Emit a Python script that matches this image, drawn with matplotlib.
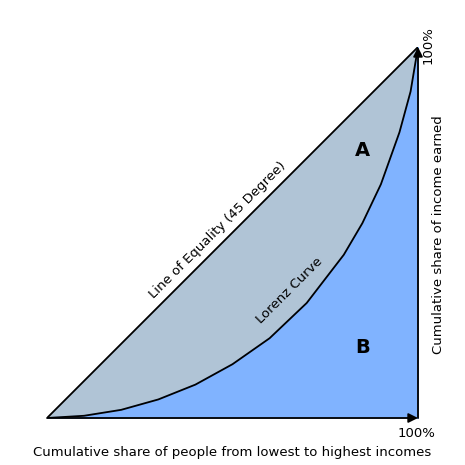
import matplotlib
matplotlib.use("Agg")
import matplotlib.pyplot as plt

# Lorenz curve (share of people, share of income)
people = [0.0, 0.1, 0.2, 0.3, 0.4, 0.5, 0.6, 0.7, 0.8, 0.85, 0.9, 0.95, 0.98, 1.0]
income = [0.0, 0.006, 0.022, 0.05, 0.09, 0.145, 0.215, 0.31, 0.44, 0.525, 0.63, 0.77, 0.88, 1.0]

fig = plt.figure(figsize=(4.65, 4.65), dpi=100)
ax = fig.add_axes([47 / 465, 47 / 465, 371 / 465, 371 / 465])
ax.set_xlim(0, 1)
ax.set_ylim(0, 1)
ax.axis("off")

# region A (between equality line and curve), region B (under the curve)
ax.fill_between(people, income, people, color="#b0c4d6", zorder=1)
ax.fill_between(people + [1.0], income + [0.0], 0, color="#80b3ff", zorder=1)
ax.fill_between([0, 1], [0, 0], [0, 1], color="none")
ax.fill(people + [1.0], income + [0.0], color="#80b3ff", zorder=1)

ax.plot([0, 1], [0, 1], color="black", lw=1.3, zorder=3)
ax.plot(people, income, color="black", lw=1.3, zorder=3)

kw = dict(arrowstyle="-|>", color="black", lw=1.3, mutation_scale=14, shrinkA=0, shrinkB=0)
ax.annotate("", xy=(1, 0), xytext=(0, 0), arrowprops=kw, zorder=4)
ax.annotate("", xy=(1, 1), xytext=(1, 0), arrowprops=kw, zorder=4, annotation_clip=False)

ax.text(0.46, 0.505, "Line of Equality (45 Degree)", rotation=45, fontsize=9.5,
        ha="center", va="center")
ax.text(0.655, 0.345, "Lorenz Curve", rotation=45, fontsize=9.5, ha="center", va="center")
ax.text(0.85, 0.72, "A", fontsize=14, fontweight="bold", ha="center", va="center")
ax.text(0.85, 0.19, "B", fontsize=14, fontweight="bold", ha="center", va="center")

fig.text(398 / 465, 1 - 433 / 465, "100%", fontsize=9.5, ha="left", va="center")
fig.text(428 / 465, 1 - 45 / 465, "100%", fontsize=9.5, rotation=90, ha="center", va="center")
fig.text(438 / 465, 1 - 235 / 465, "Cumulative share of income earned", fontsize=9.5,
         rotation=90, ha="center", va="center")
fig.text(232 / 465, 1 - 452 / 465, "Cumulative share of people from lowest to highest incomes",
         fontsize=9.5, ha="center", va="center")

fig.savefig("out.png", facecolor="white")
